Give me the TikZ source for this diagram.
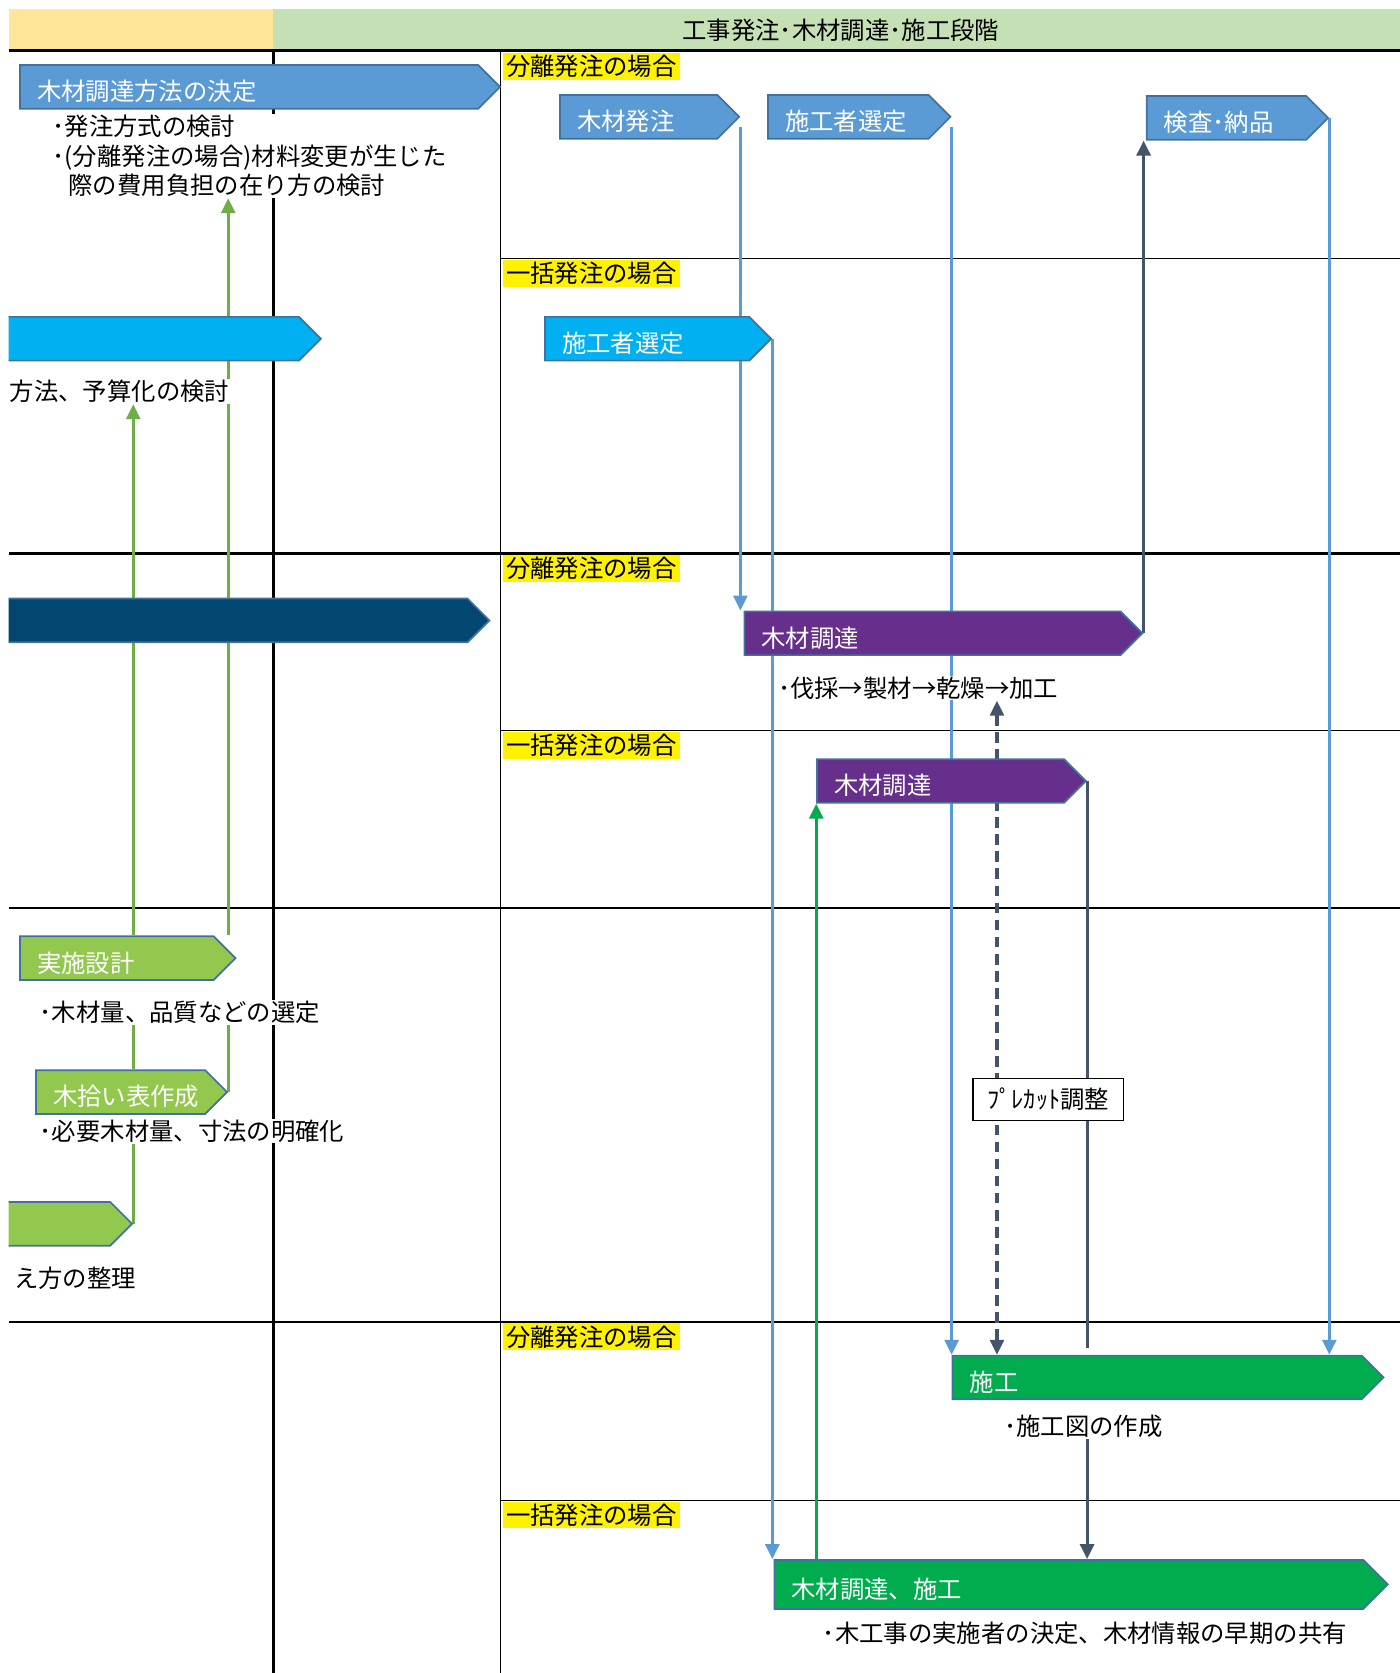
\documentclass[tikz,border=0pt]{standalone}
\usepackage{fontspec}
\setmainfont{Noto Sans CJK JP}
\usetikzlibrary{shapes.symbols,arrows.meta}

\definecolor{hdrorange}{HTML}{FFE699}
\definecolor{hdrgreen}{HTML}{C5E0B4}
\definecolor{casey}{HTML}{FFF200}
\definecolor{boxblue}{HTML}{5B9BD5}
\definecolor{boxedge}{HTML}{41719C}
\definecolor{boxcyan}{HTML}{00B0F0}
\definecolor{boxnavy}{HTML}{03466F}
\definecolor{boxpurple}{HTML}{652F8B}
\definecolor{boxlgreen}{HTML}{92C84E}
\definecolor{boxgreen}{HTML}{00AC4E}
\definecolor{slate}{HTML}{44546A}
\definecolor{leaf}{HTML}{70AD47}

\pgfdeclarelayer{grid}
\pgfdeclarelayer{links}
\pgfsetlayers{grid,links,main}

\begin{document}
\begin{tikzpicture}[x=0.02cm, y=-0.02cm, font=\fontsize{13}{15.9}\selectfont,
    chev/.style={signal, signal to=east, signal from=nowhere, signal pointer angle=90,
        draw=boxedge, line width=0.9pt, text=white, anchor=west, align=left,
        minimum height=0.82cm, inner xsep=0.32cm, inner ysep=0pt, text width=#1,
        text height=0.58cm, text depth=0.06cm},
    note/.style={anchor=west, fill=white, inner sep=0.5pt, align=left},
    casebox/.style={anchor=north west, fill=casey, inner xsep=0.06cm, inner ysep=0.04cm},
    arrowend/.style={-{Triangle[length=0.28cm,width=0.26cm]}},
    arrowboth/.style={{Triangle[length=0.28cm,width=0.26cm]}-{Triangle[length=0.28cm,width=0.26cm]}},
    blueline/.style={draw=boxblue, line width=1.7pt},
    slateline/.style={draw=slate, line width=1.7pt},
    leafline/.style={draw=leaf, line width=1.6pt}]
    \useasboundingbox (0,0) rectangle (1312,1568);
    \clip (8,0) rectangle (1312,1568);

    % Header and lanes
    \begin{pgfonlayer}{grid}
    \fill[hdrorange] (8,8) rectangle (256,47);
    \fill[hdrgreen] (256,8) rectangle (1312,47);
    \draw[line width=1.5pt] (8,47) -- (1312,47);
    \foreach \y in {519,851,1239} \draw[line width=1.5pt] (8,\y) -- (1312,\y);
    \foreach \y in {242,685,1406} \draw[line width=0.6pt] (469,\y) -- (1312,\y);
    \draw[line width=1.5pt] (256,47) -- (256,1568);
    \draw[line width=0.6pt] (469,47) -- (469,1568);
    \end{pgfonlayer}
    \node (title) at (788,28) {工事発注･木材調達･施工段階};

    % Case labels
    \foreach \y/\t in {49/分離発注の場合, 243/一括発注の場合, 520/分離発注の場合,
        686/一括発注の場合, 1240/分離発注の場合, 1407/一括発注の場合}
        \node[casebox] (case\y) at (471,\y) {\t};

    % Design side
    \node[chev=7.95cm, fill=boxblue] (hoho) at (18,81.5) {木材調達方法の決定};
    \node[chev=5.35cm, fill=boxcyan] (cyanbar) at (-20,317.5) {};
    \node[chev=8.51cm, fill=boxnavy] (navybar) at (-20,581.5) {};
    \node[chev=2.99cm, fill=boxlgreen] (jisshi) at (18,898) {実施設計};
    \node[chev=2.53cm, fill=boxlgreen] (kiharai) at (33,1023.5) {木拾い表作成};
    \node[chev=1.81cm, fill=boxlgreen] (greenbar) at (-20,1147) {};

    \node[note] (notehoho) at (48,146) {･発注方式の検討\\･(分離発注の場合)材料変更が生じた\\\hspace{0.3cm}際の費用負担の在り方の検討};
    \node[note] (notebudget) at (8,367) {方法、予算化の検討};
    \node[note] (notejisshi) at (36,949) {･木材量、品質などの選定};
    \node[note] (notekiharai) at (36,1060) {･必要木材量、寸法の明確化};
    \node[note] (noteseiri) at (12,1198) {え方の整理};

    % Ordering and construction side
    \node[chev=2.31cm, fill=boxblue] (hatchu) at (524,109.5) {木材発注};
    \node[chev=2.37cm, fill=boxblue] (sentei1) at (719,109.5) {施工者選定};
    \node[chev=2.35cm, fill=boxblue] (kensa) at (1074,110.5) {検査･納品};
    \node[chev=3.19cm, fill=boxcyan] (sentei2) at (510,317.5) {施工者選定};
    \node[chev=6.41cm, fill=boxpurple] (chotatsu1) at (697,593.5) {木材調達};
    \node[chev=3.99cm, fill=boxpurple] (chotatsu2) at (765,732) {木材調達};
    \node[chev=7.03cm, fill=boxgreen] (seko1) at (892,1291) {施工};
    \node[chev=10.4cm, fill=boxgreen, minimum height=0.92cm] (seko2) at (725,1485) {木材調達、施工};

    \node[note] (notechotatsu) at (728,645) {･伐採→製材→乾燥→加工};
    \node[note] (notesekozu) at (940,1337) {･施工図の作成};
    \node[note] (notekyoyu) at (770,1531) {･木工事の実施者の決定、木材情報の早期の共有};
    \node[draw, line width=0.7pt, fill=white, minimum width=2.82cm, minimum height=0.78cm] (precut) at (982.5,1030.5) {ﾌﾟﾚｶｯﾄ調整};
    \coordinate (adjust) at ([xshift=0.46cm]precut.west);

    \begin{pgfonlayer}{links}
    % Green links
    \draw[leafline] (greenbar.east) -- (greenbar.east |- notekiharai.south);
    \draw[leafline] (kiharai.north -| greenbar.east) -- (notejisshi.south -| greenbar.east);
    \draw[leafline, arrowend] (jisshi.north -| greenbar.east) -- (notebudget.south -| greenbar.east);
    \draw[leafline] (kiharai.east) -- (kiharai.east |- notejisshi.south);
    \draw[leafline, arrowend] (kiharai.east |- jisshi.north) -- (kiharai.east |- notehoho.south);

    % Blue links
    \draw[blueline, arrowend] ([yshift=-0.2cm]hatchu.east) -- (hatchu.east |- chotatsu1.north);
    \draw[blueline, arrowend] (sentei2.east) -- (sentei2.east |- seko2.north);
    \draw[blueline, arrowend] ([yshift=-0.2cm]sentei1.east) -- (sentei1.east |- seko1.north);
    \draw[blueline, arrowend] (kensa.east) -- (kensa.east |- seko1.north);

    % Dark links
    \draw[slateline, arrowend] (chotatsu1.east) -- (chotatsu1.east |- kensa.south);
    \draw[slateline] (chotatsu2.east) -- ([yshift=0.12cm]chotatsu2.east |- seko1.north);
    \draw[slateline, arrowend] (notesekozu.south -| chotatsu2.east) -- (chotatsu2.east |- seko2.north);
    \draw[slateline, dash pattern=on 0.2cm off 0.12cm, arrowboth] (notechotatsu.south -| adjust) -- (seko1.north -| adjust);
    \draw[draw=boxgreen, line width=1.7pt, arrowend] (seko2.north -| chotatsu2.west) -- (chotatsu2.south -| chotatsu2.west);
    \end{pgfonlayer}
\end{tikzpicture}
\end{document}
